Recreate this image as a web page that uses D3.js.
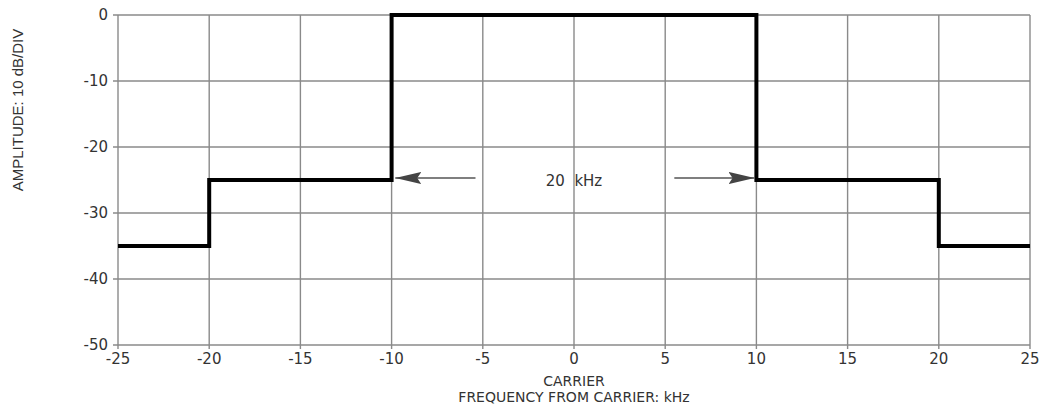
<!DOCTYPE html>
<html lang="en">
<head>
  <meta charset="UTF-8">
  <title>Emission mask</title>
  <style>
    body { margin: 0; background: #fff; }
    svg text { font-family: "DejaVu Sans", sans-serif; fill: #333; }
    .grid line { stroke: #8a8a8a; stroke-width: 1.4px; }
  </style>
  <script src="https://d3js.org/d3.v7.min.js"></script>
</head>
<body>
  <svg id="chart" width="1050" height="412"></svg>
  <script>
    // data: mask steps (kHz from carrier, dB)
    const freqs = [-25, -20, -20, -10, -10, 10, 10, 20, 20, 25];
    const levels = [-35, -35, -25, -25, 0, 0, -25, -25, -35, -35];
    const xTicks = [-25, -20, -15, -10, -5, 0, 5, 10, 15, 20, 25];
    const yTicks = [0, -10, -20, -30, -40, -50];
    const bandLabel = "20  kHz";

    const svg = d3.select("#chart");
    const x = d3.scaleLinear().domain([-25, 25]).range([118, 1030]);
    const y = d3.scaleLinear().domain([-50, 0]).range([345, 15]);

    // grid
    const grid = svg.append("g").attr("class", "grid");
    grid.selectAll("line.v").data(xTicks).enter().append("line")
      .attr("x1", d => x(d)).attr("x2", d => x(d))
      .attr("y1", y(0)).attr("y2", y(-50) + 4);
    grid.selectAll("line.h").data(yTicks).enter().append("line")
      .attr("x1", x(-25) - 5).attr("x2", x(25))
      .attr("y1", d => y(d)).attr("y2", d => y(d));

    // tick labels
    svg.selectAll("text.yt").data(yTicks).enter().append("text")
      .attr("x", 108).attr("y", d => y(d) + 5)
      .attr("text-anchor", "end").attr("font-size", 15)
      .text(d => d);
    svg.selectAll("text.xt").data(xTicks).enter().append("text")
      .attr("x", d => x(d)).attr("y", y(-50) + 19)
      .attr("text-anchor", "middle").attr("font-size", 15)
      .text(d => d);

    // mask line
    const line = d3.line().x((d, i) => x(freqs[i])).y(d => y(d));
    svg.append("path").datum(levels)
      .attr("d", line)
      .attr("fill", "none").attr("stroke", "#000")
      .attr("stroke-width", 4).attr("stroke-linejoin", "miter");

    // arrows
    const defs = svg.append("defs");
    defs.append("marker").attr("id", "arr")
      .attr("viewBox", "0 0 26 12").attr("refX", 26).attr("refY", 6)
      .attr("markerWidth", 26).attr("markerHeight", 12)
      .attr("markerUnits", "userSpaceOnUse").attr("orient", "auto")
      .append("path").attr("d", "M0,0L26,6L0,12L4,6Z").attr("fill", "#444");

    const arrowY = -24.7;
    [[-5.4, -9.8], [5.5, 9.9]].forEach(a => {
      svg.append("line")
        .attr("x1", x(a[0])).attr("x2", x(a[1]))
        .attr("y1", y(arrowY)).attr("y2", y(arrowY))
        .attr("stroke", "#555").attr("stroke-width", 1.3)
        .attr("marker-end", "url(#arr)");
    });
    svg.append("text")
      .attr("x", x(0)).attr("y", y(arrowY) + 8)
      .attr("text-anchor", "middle").attr("font-size", 15)
      .attr("xml:space", "preserve")
      .text(bandLabel);

    // axis titles
    svg.append("text")
      .attr("x", x(0)).attr("y", 386)
      .attr("text-anchor", "middle").attr("font-size", 14)
      .text("CARRIER");
    svg.append("text")
      .attr("x", x(0)).attr("y", 402)
      .attr("text-anchor", "middle").attr("font-size", 14)
      .text("FREQUENCY FROM CARRIER: kHz");
    svg.append("text")
      .attr("transform", "translate(23,110) rotate(-90)")
      .attr("text-anchor", "middle").attr("font-size", 15)
      .style("font-family", "'Liberation Sans Narrow', 'Liberation Sans', sans-serif")
      .text("AMPLITUDE: 10 dB/DIV");
  </script>
</body>
</html>
